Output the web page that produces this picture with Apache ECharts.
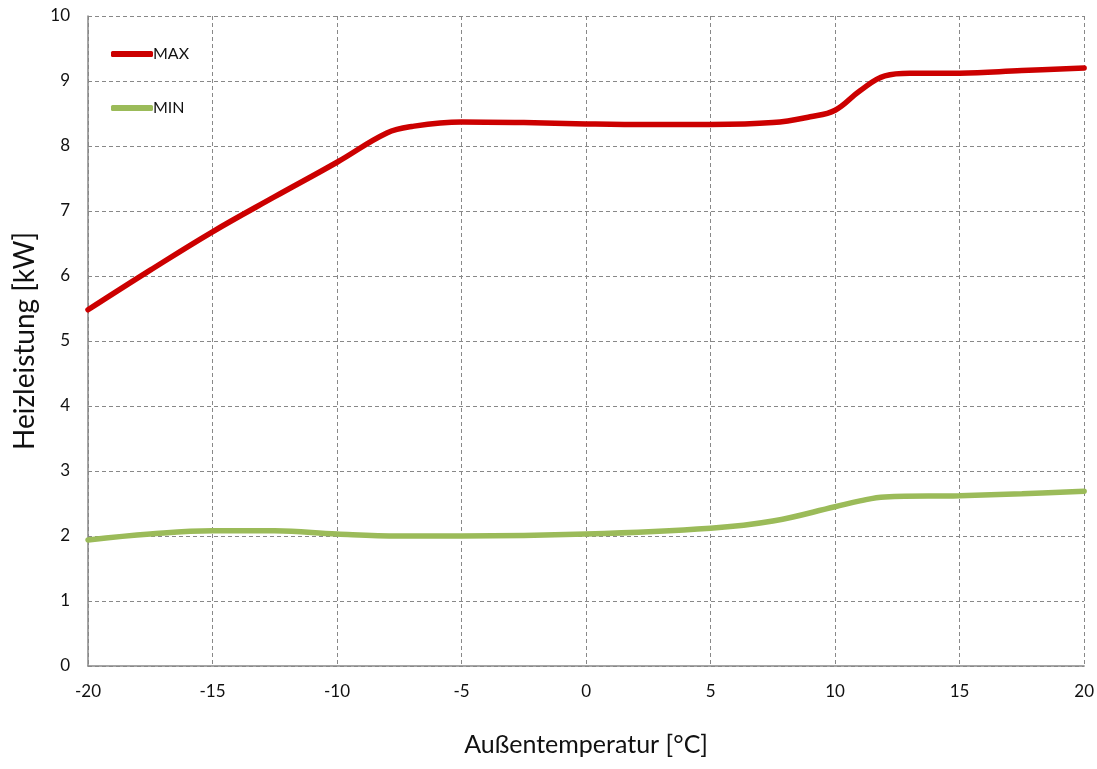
<!DOCTYPE html>
<html>
<head>
<meta charset="utf-8">
<script src="https://cdn.jsdelivr.net/npm/echarts@6/dist/echarts.min.js"></script>
<style>html,body{margin:0;padding:0;background:#fff}#c{width:1097px;height:769px}</style>
</head>
<body>
<div id="c"></div>
<script>
const maxTemps = [-20,-17.5,-15,-12.5,-10,-8,-7,-5,-2.5,0,2.5,5,7.5,9,10,11,12,13,15,17.5,20];
const maxValues = [5.48,6.09,6.68,7.22,7.75,8.2,8.3,8.37,8.36,8.34,8.33,8.33,8.36,8.45,8.55,8.85,9.08,9.12,9.12,9.16,9.2];
const minTemps = [-20,-17.5,-15,-12.5,-10,-7.5,-5,0,5,7.5,10,11,12,15,17.5,20];
const minValues = [1.94,2.03,2.08,2.08,2.03,2.0,2.0,2.03,2.12,2.23,2.45,2.54,2.6,2.62,2.65,2.69];
const seriesNames = ['MAX','MIN'];
const xTitle = 'Außentemperatur [°C]';
const yTitle = 'Heizleistung [kW]';

const pairs = (xs, ys) => xs.map((x, i) => [x, ys[i]]);
const font = 'Lato, "Open Sans", sans-serif';
const grid = {lineStyle:{color:'#888', type:[4,3], width:1}};
const chart = echarts.init(document.getElementById('c'), null, {renderer:'canvas'});
chart.setOption({
  animation:false,
  backgroundColor:'#fff',
  grid:{left:88, right:12, top:16, bottom:103, containLabel:false},
  legend:{
    orient:'vertical', left:106, top:41, itemGap:38, itemWidth:42, itemHeight:6,
    icon:'roundRect',
    textStyle:{fontFamily:font, fontSize:16, color:'#111', padding:[0,0,0,-5]},
    data:seriesNames
  },
  xAxis:{
    type:'value', min:-20, max:20, interval:5,
    name:xTitle, nameLocation:'middle', nameGap:66,
    nameTextStyle:{fontFamily:font, fontSize:25, color:'#111'},
    axisLine:{onZero:false, lineStyle:{color:'#888', width:1.5}},
    axisTick:{show:false},
    axisLabel:{fontFamily:font, fontSize:17, color:'#111', margin:17},
    splitLine:Object.assign({show:true}, grid)
  },
  yAxis:{
    type:'value', min:0, max:10, interval:1,
    name:yTitle, nameLocation:'middle', nameGap:48, nameRotate:90,
    nameTextStyle:{fontFamily:font, fontSize:28, color:'#111'},
    axisLine:{show:true, onZero:false, lineStyle:{color:'#888', width:1.5}},
    axisTick:{show:false},
    axisLabel:{fontFamily:font, fontSize:17, color:'#111', margin:18},
    splitLine:Object.assign({show:true}, grid)
  },
  series:[
    {name:seriesNames[0], type:'line', data:pairs(maxTemps, maxValues), smooth:0.4, showSymbol:false,
     lineStyle:{color:'#CC0000', width:5.5, cap:'round'}, itemStyle:{color:'#CC0000'}},
    {name:seriesNames[1], type:'line', data:pairs(minTemps, minValues), smooth:0.4, showSymbol:false,
     lineStyle:{color:'#9BBB59', width:5.5, cap:'round'}, itemStyle:{color:'#9BBB59'}}
  ]
});
</script>
</body>
</html>
